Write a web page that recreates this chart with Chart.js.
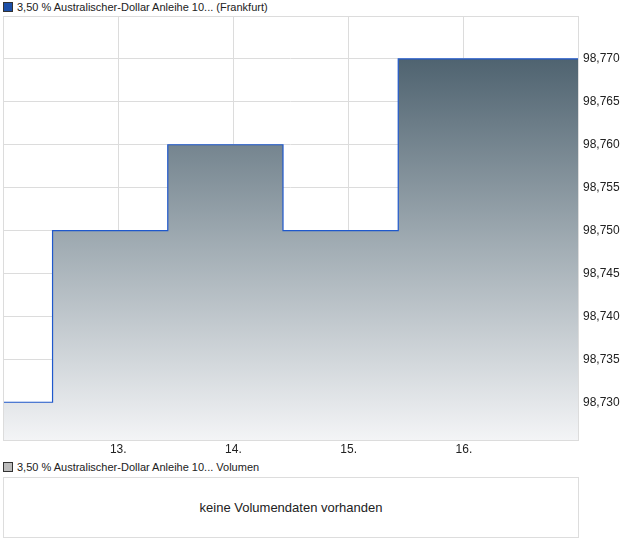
<!DOCTYPE html>
<html>
<head>
<meta charset="utf-8">
<script src="https://cdn.jsdelivr.net/npm/chart.js@4.4.0/dist/chart.umd.min.js"></script>
<style>
  body { margin: 0; background: #fff; font-family: "Liberation Sans", Arial, sans-serif; font-size: 12px; color: #222; }
  .wrap { position: relative; width: 620px; height: 546px; }
  .legend { position: absolute; left: 3px; height: 14px; line-height: 14px; white-space: nowrap; font-size: 11px; }
  .legend span.box { display: inline-block; width: 8px; height: 8px; border: 1px solid #333; margin-right: 4px; vertical-align: -1px; }
  #main { position: absolute; left: 0; top: 0; }
  .vol { position: absolute; left: 3px; top: 477px; width: 574px; height: 59px; border: 1px solid #ddd; text-align: center; line-height: 59px; font-size: 13px; }
</style>
</head>
<body>
<div class="wrap">
  <div class="legend" style="top:0px"><span class="box" style="background:#1c4fa8"></span>3,50 % Australischer-Dollar Anleihe 10... (Frankfurt)</div>
  <canvas id="main" width="620" height="460"></canvas>
  <div class="legend" style="top:460px"><span class="box" style="background:#bbb"></span>3,50 % Australischer-Dollar Anleihe 10... Volumen</div>
  <div class="vol">keine Volumendaten vorhanden</div>
</div>
<script>
// price steps (day of month, fractional) and values
const times = [12.0, 12.43, 13.43, 14.43, 15.43, 16.99];
const prices = [98.730, 98.750, 98.760, 98.750, 98.770, 98.770];
const xTicks = [13, 14, 15, 16];
const yTicks = [98.730, 98.735, 98.740, 98.745, 98.750, 98.755, 98.760, 98.765, 98.770];

const points = times.map((t, i) => ({ x: t, y: prices[i] }));

const frame = {
  id: 'frame',
  afterDatasetsDraw(chart) {
    const a = chart.chartArea, ctx = chart.ctx;
    ctx.save();
    ctx.strokeStyle = '#dcdcdc';
    ctx.lineWidth = 1;
    ctx.strokeRect(a.left + 0.5, a.top + 0.5, a.right - a.left, a.bottom - a.top);
    ctx.restore();
  }
};

new Chart(document.getElementById('main'), {
  type: 'line',
  data: {
    datasets: [{
      data: points,
      stepped: true,
      borderColor: '#1f58cc',
      borderWidth: 1.2,
      pointRadius: 0,
      fill: 'start',
      backgroundColor(ctx) {
        const chart = ctx.chart, a = chart.chartArea;
        if (!a) return '#a0abb2';
        const top = chart.scales.y.getPixelForValue(98.770);
        const g = chart.ctx.createLinearGradient(0, top, 0, a.bottom);
        g.addColorStop(0, '#4f6370');
        g.addColorStop(0.5, '#a3aeb5');
        g.addColorStop(1, '#f3f4f6');
        return g;
      }
    }]
  },
  options: {
    responsive: false,
    animation: false,
    layout: { padding: { top: 16, left: 3, right: 0, bottom: 0 } },
    plugins: { legend: { display: false }, tooltip: { enabled: false } },
    scales: {
      x: {
        type: 'linear',
        min: 12,
        max: 16.99,
        afterBuildTicks(s) { s.ticks = xTicks.map(v => ({ value: v })); },
        afterFit(s) { s.height = 20; },
        grid: { color: '#dcdcdc', drawTicks: false },
        border: { color: '#dcdcdc' },
        ticks: {
          color: '#222', padding: 2, maxRotation: 0,
          font: { family: 'Liberation Sans', size: 12 },
          callback: v => v + '.'
        }
      },
      y: {
        position: 'right',
        min: 98.7256,
        max: 98.7750,
        afterBuildTicks(s) { s.ticks = yTicks.map(v => ({ value: v })); },
        afterFit(s) { s.width = 42; },
        grid: { color: '#dcdcdc', drawTicks: false },
        border: { color: '#dcdcdc' },
        ticks: {
          color: '#222', padding: 5,
          font: { family: 'Liberation Sans', size: 12 },
          callback: v => v.toFixed(3).replace('.', ',')
        }
      }
    }
  },
  plugins: [frame]
});
</script>
</body>
</html>
